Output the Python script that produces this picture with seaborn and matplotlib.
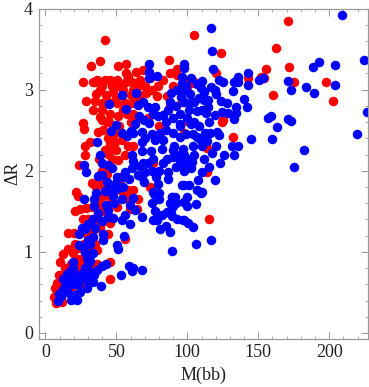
import numpy as np
import pandas as pd
import matplotlib
matplotlib.use("Agg")
import matplotlib.pyplot as plt
import seaborn as sns
from matplotlib.ticker import MultipleLocator

# M(bb), Delta R
red_m = [42.3, 31.9, 38.3, 51.4, 56.6, 87.3, 26.3, 33.8, 36.2, 42, 45.5, 50.2, 56.6, 63.6, 68.5, 56.6, 61.2, 66.7, 73.7, 83,
         92.5, 92.5, 38.5, 47.9, 54.9, 62, 70.7, 78.4, 85.4, 79.6, 28.6, 35, 39.7, 33.8, 39.7, 45.5, 50.2, 56, 60.8, 51.4,
         57.3, 26.3, 27.2, 37.3, 40.8, 38.5, 43.2, 31.5, 27.9, 27.9, 23.5, 45.5, 49, 53.7, 62, 51.4, 44.3, 46.7, 76, 55,
         52.6, 21.6, 38.5, 43.2, 40.8, 58.4, 62, 73.7,
         104.7, 123.7, 170.7, 162.7, 155.2, 171.4, 120, 142.7, 151.6, 154, 175.1, 197.9, 160.6, 202.4, 102.3, 124.2, 125.3,
         132.4, 114.1, 113.6, 99.5, 97.7, 115.3,
         23.2, 50.2, 20.9, 24.4, 28.6, 26.8, 16.2, 20.2, 38.5, 45.5, 44.4, 33.8, 29.1, 20.9, 16.2, 12.7, 10.3, 19.7, 24.4,
         35, 36.2, 56.1, 45.5, 36.2, 24.4, 45.5, 9.9, 8, 6.8, 15, 6.1, 7.5, 11.5, 18.5, 40.8, 59.5, 64.2, 22,
         35, 40, 47, 52, 58, 65, 70, 60, 66, 43, 50, 36, 44, 55, 62, 45, 52, 40, 48, 44,
         42, 38, 50, 56, 58, 47, 40, 33, 36, 42, 46, 38, 33, 40, 44, 36, 30, 34, 41, 30,
         27, 24, 32, 28, 26, 22, 33, 18, 14, 12, 10, 13, 17, 21, 8, 11, 26, 65, 60, 90,
         95, 100, 105, 96, 88, 75, 65, 72, 80, 58, 65, 55, 88, 98]
red_dr = [3.61, 3.29, 3.35, 3.29, 3.31, 3.37, 3.09, 3.09, 3.12, 3.12, 3.12, 3.12, 3.20, 3.22, 3.24, 3.09, 3.09, 3.12, 3.14, 3.12,
          3.26, 3.18, 2.99, 2.97, 2.99, 2.99, 2.96, 2.92, 2.92, 3.05, 2.86, 2.86, 2.83, 2.75, 2.75, 2.70, 2.83, 2.83, 2.83, 2.68,
          2.70, 2.59, 2.51, 2.48, 2.50, 2.66, 2.60, 2.36, 2.30, 2.20, 2.07, 2.33, 2.36, 2.38, 2.31, 2.13, 2.21, 2.27, 2.09, 1.94,
          1.88, 1.74, 1.90, 1.96, 1.82, 1.76, 1.76, 1.80,
          3.67, 3.45, 3.85, 3.51, 3.26, 3.28, 3.20, 3.14, 3.16, 3.14, 3.09, 3.10, 2.93, 2.86, 3.08, 2.60, 2.63,
          2.42, 2.28, 1.99, 2.61, 2.46, 1.41,
          1.69, 1.55, 1.50, 1.53, 1.54, 1.41, 1.23, 1.23, 1.30, 1.36, 1.22, 1.26, 1.22, 1.10, 1.04, 0.97, 0.88, 0.99, 0.91,
          1.10, 1.02, 1.16, 0.88, 0.85, 0.81, 0.66, 0.72, 0.62, 0.56, 0.71, 0.44, 0.37, 0.38, 0.58, 1.69, 1.53, 1.53, 0.75,
          3.10, 3.05, 3.05, 3.05, 3.15, 3.05, 3.05, 2.93, 2.90, 2.93, 2.90, 2.95, 2.85, 2.75, 2.70, 2.60, 2.55, 2.62, 2.45, 2.40,
          2.25, 2.15, 2.25, 2.20, 2.30, 2.15, 2.00, 1.85, 1.80, 1.70, 1.62, 1.60, 1.55, 1.50, 1.45, 1.42, 1.40, 1.35, 1.38, 1.15,
          1.10, 1.05, 1.05, 0.95, 0.85, 0.90, 0.85, 0.85, 0.80, 0.62, 0.55, 0.50, 0.55, 0.60, 0.50, 0.44, 0.62, 2.65, 2.60, 3.05,
          3.00, 3.00, 3.10, 2.85, 2.80, 3.00, 2.95, 2.65, 2.55, 1.65, 1.65, 1.72, 3.20, 3.10]

blue_m = [72.8, 73, 73.2, 78.4, 97.9, 95.9, 95.9, 54.2, 63.8, 88.5, 92.5, 95.5, 44.8, 56.6, 65.5, 68.5, 72.5, 77.2, 86.2, 76,
          79.6, 83, 66.2, 69.5, 73, 50, 46.2, 63.4, 60.3, 53.7, 57.3, 62, 67.8, 70.2, 80.8, 90.1, 94.8, 77.2, 83, 82.4,
          36.6, 38.5, 39.7, 44.4, 46.7, 27.5, 28.6, 36.9, 61.3, 67.8, 74.2, 90.8, 97.2, 76, 69, 66.7, 60.8, 72.5, 83, 85.4,
          90.1, 94.8, 86.6, 86.6, 67.8, 69.5, 77.7, 79.6, 50.2, 54.9, 59, 43.7, 45.5, 50.7, 46.7, 96, 76, 89, 94.8, 94.8,
          208.9, 116.7, 117.2, 118.1, 97.7, 102.8, 110.1, 107, 122.3, 125, 143, 136, 132.9, 135.7, 143, 150.2, 153.3, 170.9, 172.8, 183.8,
          189.5, 188.5, 193, 204, 204, 224.4, 226.8, 132, 116.4, 119.7, 120.4, 109.4, 111.7, 98.8, 98.8, 140, 141.8, 101.9, 111.7, 114.6,
          123.5, 128, 134, 114.6, 101.2, 107, 110.6, 113, 119.5, 124.6, 128.6, 134, 132.9, 156.8, 158.7, 171.1, 173, 162.9, 102.3, 112.4,
          115.7, 120.7, 122.5, 98.8, 104, 107, 104, 109.4, 113.6, 120.1, 117.4, 131.2, 135.7, 126, 132.6, 145.1, 159.4, 182.4, 219.7, 175.1,
          123.2, 103.3, 102.3, 97.7, 97.7, 110.6, 119.7, 107.5, 101.2, 106.6, 110.1, 97.7, 97.7,
          105.9, 116.4, 104, 100.5, 97.7, 99.5, 105.9, 109.4, 99.5,
          27.5, 34.5, 34.5, 47.9, 53.7, 61.5, 59.6, 42.7, 43.9, 63.1, 67.8, 44.4, 47.9, 56.1, 54.3, 59.6, 33.3, 30.3, 25.6, 23.7,
          40.4, 40.8, 33.3, 31.5, 23.9, 26.8, 55.4, 50.7, 50.9, 33.3, 29, 31.5, 19.2, 19.7, 42.5, 39.7, 36.6, 31, 26.8, 58.7,
          62, 61.3, 68, 53, 39.4, 33.3, 29.1, 23.2, 26.8, 20.9, 15, 12.7, 14.3, 11.5, 9.9, 24.4, 22.5, 22, 17.8, 18.5, 9.2,
          76.3, 80.3, 89, 91.3, 89.7, 88.2, 85.4, 89, 79.6, 78.4, 75.6, 80.8, 84.7, 87.8, 89.2, 96.7, 97.9,
          85, 90, 100, 105, 95, 85, 105, 108, 92, 98, 102, 88, 90, 95, 100, 92, 98, 105, 112, 115,
          80, 75, 70, 65, 56, 62, 68, 75, 115, 108, 110,
          16, 18, 13, 16, 11, 20, 23, 30, 28, 34, 24, 18, 28, 30, 28, 30, 35, 28, 40, 37,
          48, 42, 50, 36, 55, 40, 77, 82, 88, 92, 93, 80, 75]
blue_dr = [3.32, 3.22, 3.14, 3.17, 3.32, 3.16, 3.08, 2.93, 2.96, 2.96, 2.99, 2.91, 2.82, 2.76, 2.81, 2.85, 2.79, 2.79, 2.75, 2.70,
           2.68, 2.69, 2.68, 2.63, 2.59, 2.56, 2.49, 2.57, 2.49, 2.47, 2.43, 2.46, 2.48, 2.40, 2.47, 2.46, 2.42, 2.38, 2.38, 2.27,
           2.36, 2.20, 2.09, 2.07, 2.03, 2.07, 1.98, 1.94, 2.20, 2.24, 2.24, 2.31, 2.27, 2.15, 2.09, 2.06, 2.03, 2.09, 2.09, 2.15,
           2.17, 2.13, 1.98, 1.90, 1.92, 1.86, 1.92, 1.84, 1.92, 1.92, 1.90, 1.86, 1.82, 1.77, 1.73, 1.82, 1.74, 1.68, 2.70, 2.58,
           3.92, 3.76, 3.48, 3.25, 3.27, 3.14, 3.11, 3.07, 3.12, 3.09, 3.20, 3.15, 3.10, 3.09, 3.06, 3.12, 3.14, 3.11, 3.00, 3.03,
           2.96, 3.28, 3.34, 3.30, 3.06, 3.36, 2.72, 2.98, 3.03, 3.0, 2.95, 3.02, 2.97, 3.05, 2.99, 2.88, 2.79, 2.84, 2.87, 2.87,
           2.86, 2.84, 2.79, 2.79, 2.75, 2.74, 2.75, 2.71, 2.69, 2.72, 2.71, 2.71, 2.64, 2.65, 2.67, 2.64, 2.61, 2.54, 2.57, 2.47,
           2.47, 2.48, 2.44, 2.45, 2.45, 2.42, 2.31, 2.38, 2.37, 2.31, 2.22, 2.31, 2.30, 2.20, 2.20, 2.39, 2.39, 2.26, 2.45, 2.04,
           2.10, 2.11, 2.03, 2.20, 2.05, 1.99, 1.88, 1.88, 1.82, 1.76, 1.74, 1.82, 1.61,
           1.10, 1.14, 1.31, 1.36, 1.39, 1.57, 1.59, 1.72, 1.67,
           1.65, 1.65, 1.57, 1.69, 1.65, 1.66, 1.58, 1.58, 1.51, 1.51, 1.43, 1.43, 1.42, 1.45, 1.39, 1.34, 1.40, 1.34, 1.30, 1.22,
           1.22, 1.14, 1.18, 1.10, 1.09, 1.06, 1.19, 1.08, 1.04, 0.99, 0.92, 0.89, 0.87, 0.80, 0.85, 0.82, 0.78, 0.76, 0.74, 0.82,
           0.80, 0.76, 0.78, 0.71, 0.58, 0.63, 0.56, 0.65, 0.66, 0.67, 0.73, 0.67, 0.58, 0.52, 0.48, 0.50, 0.48, 0.41, 0.41, 0.44, 0.40,
           1.71, 1.72, 1.67, 1.67, 1.56, 1.51, 1.49, 1.44, 1.45, 1.39, 1.39, 1.28, 1.32, 1.24, 1.01, 1.39, 1.61,
           2.60, 2.65, 2.65, 2.60, 2.55, 2.50, 2.85, 2.90, 2.80, 2.85, 2.95, 2.85, 2.25, 2.20, 2.15, 2.05, 2.00, 2.20, 2.15, 2.05,
           2.00, 2.00, 1.98, 1.95, 1.98, 2.12, 2.35, 2.45, 2.60, 2.55, 2.30,
           0.62, 0.68, 0.55, 0.50, 0.45, 0.60, 0.60, 0.65, 0.70, 0.72, 0.72, 0.78, 0.80, 0.85, 1.00, 1.15, 1.30, 1.28, 1.38, 1.48,
           1.60, 1.75, 1.85, 1.72, 1.80, 1.95, 1.50, 1.45, 1.60, 1.60, 1.40, 1.65, 1.60]

x_ticks = [0, 50, 100, 150, 200]
y_ticks = [0, 1, 2, 3, 4]

red = pd.DataFrame({'m': red_m, 'dr': red_dr})
blue = pd.DataFrame({'m': blue_m, 'dr': blue_dr})

sns.set_style("ticks")
plt.rcParams['font.family'] = ['Liberation Serif', 'DejaVu Serif']

fig, ax = plt.subplots(figsize=(3.69, 3.87), dpi=100)
fig.subplots_adjust(left=0.1045, right=0.9985, top=0.978, bottom=0.125)

sns.scatterplot(x='m', y='dr', data=red, ax=ax, color='#ff0000', s=47, linewidth=0)
sns.scatterplot(x='m', y='dr', data=blue, ax=ax, color='#0000ff', s=47, linewidth=0)

ax.set_xlim(-4.8, 227.6)
ax.set_ylim(-0.07, 4.0)
ax.set_xticks(x_ticks)
ax.set_yticks(y_ticks)
ax.xaxis.set_minor_locator(MultipleLocator(10))
ax.yaxis.set_minor_locator(MultipleLocator(0.2))
ax.tick_params(which='major', direction='in', length=5, width=0.6, color='#888888',
               top=True, right=True, labelsize=13, labelcolor='#222222', pad=4)
ax.tick_params(which='minor', direction='in', length=2.5, width=0.5, color='#888888',
               top=True, right=True)
for spine in ax.spines.values():
    spine.set_color('#999999')
    spine.set_linewidth(0.9)

ax.set_xlabel('M(bb)', fontsize=13, color='#222222', labelpad=4)
ax.set_ylabel('ΔR', fontsize=13, color='#222222', labelpad=2)

fig.savefig('out.png', dpi=100)
